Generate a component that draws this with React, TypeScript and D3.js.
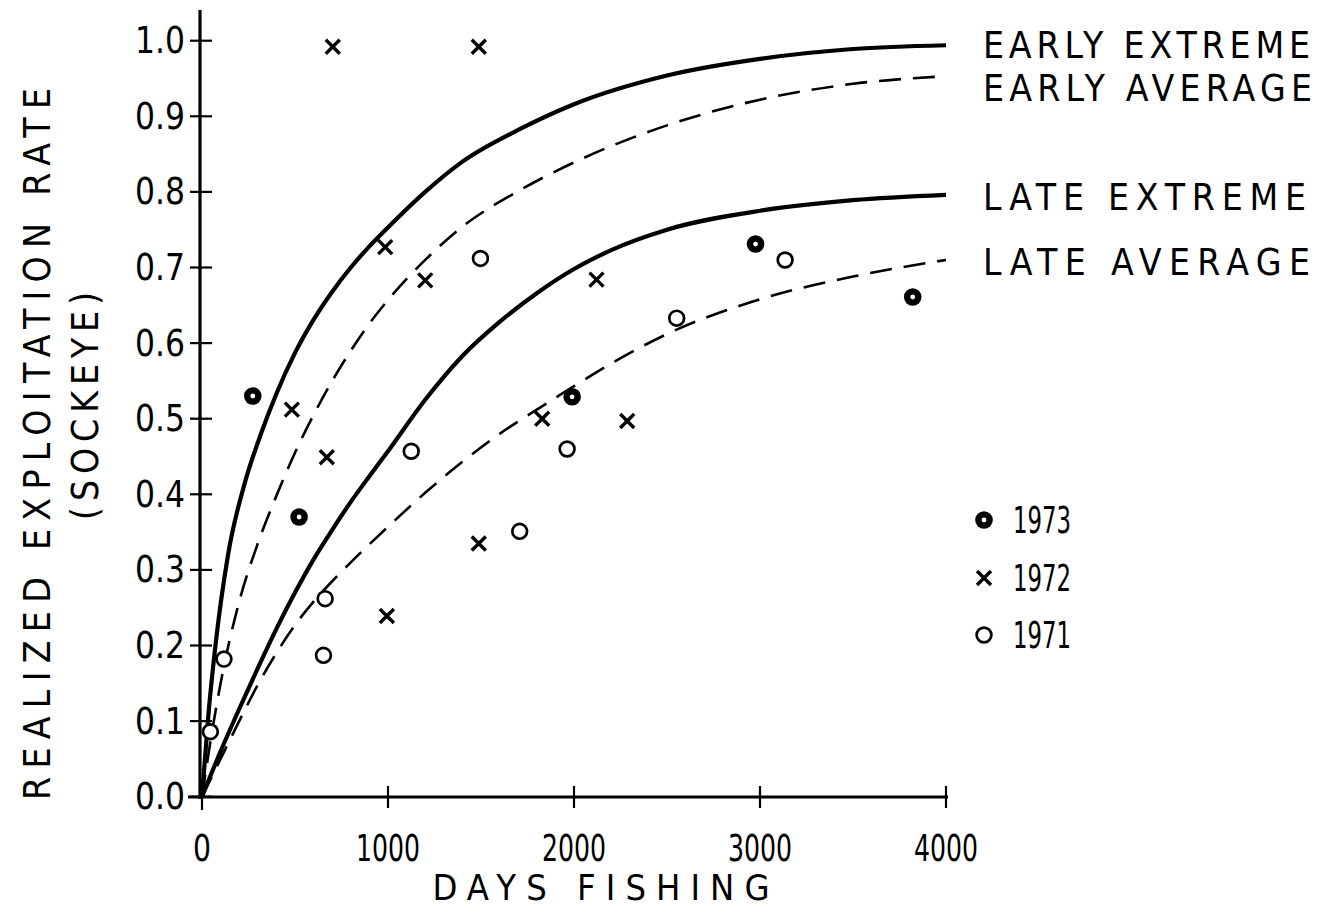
import React from "react";
import * as d3 from "d3";

// ---- data ----
const xTicks = [0, 1000, 2000, 3000, 4000];
const yTicks = [0, 0.1, 0.2, 0.3, 0.4, 0.5, 0.6, 0.7, 0.8, 0.9, 1.0];

const earlyExtremeDays = [0, 35, 70, 140, 230, 320, 400, 500, 600, 700, 800, 900, 1000, 1200, 1400, 1700, 2000, 2500, 3000, 3500, 4000];
const earlyExtremeRate = [0, 0.11, 0.195, 0.32, 0.415, 0.482, 0.533, 0.587, 0.631, 0.668, 0.7, 0.728, 0.753, 0.8, 0.84, 0.882, 0.916, 0.954, 0.976, 0.989, 0.994];

const earlyAverageDays = [0, 50, 100, 200, 300, 400, 500, 600, 700, 800, 900, 1000, 1200, 1400, 1700, 2000, 2500, 3000, 3500, 4000];
const earlyAverageRate = [0, 0.08, 0.15, 0.258, 0.335, 0.398, 0.455, 0.505, 0.55, 0.59, 0.626, 0.657, 0.71, 0.754, 0.801, 0.839, 0.888, 0.922, 0.943, 0.953];

const lateExtremeDays = [0, 100, 200, 300, 400, 500, 600, 700, 800, 900, 1000, 1200, 1400, 1600, 1800, 2000, 2200, 2500, 3000, 3500, 4000];
const lateExtremeRate = [0, 0.06, 0.116, 0.17, 0.222, 0.27, 0.314, 0.353, 0.39, 0.424, 0.457, 0.525, 0.583, 0.628, 0.666, 0.698, 0.723, 0.75, 0.775, 0.789, 0.796];

const lateAverageDays = [0, 100, 200, 300, 400, 500, 600, 700, 800, 1000, 1200, 1400, 1600, 1800, 2000, 2200, 2500, 3000, 3500, 4000];
const lateAverageRate = [0, 0.05, 0.1, 0.148, 0.19, 0.227, 0.258, 0.285, 0.31, 0.357, 0.402, 0.443, 0.48, 0.512, 0.543, 0.573, 0.612, 0.658, 0.688, 0.71];

const days1971 = [45, 118, 653, 662, 1125, 1497, 1708, 1963, 2552, 3135];
const rate1971 = [0.086, 0.182, 0.187, 0.262, 0.457, 0.712, 0.351, 0.46, 0.633, 0.71];
const days1972 = [483, 671, 703, 985, 994, 1200, 1488, 1488, 1829, 2121, 2286];
const rate1972 = [0.512, 0.449, 0.992, 0.727, 0.239, 0.683, 0.992, 0.335, 0.5, 0.684, 0.497];
const days1973 = [273, 522, 1990, 2976, 3821];
const rate1973 = [0.53, 0.37, 0.529, 0.731, 0.661];

const curveLabels = ["EARLY EXTREME", "EARLY AVERAGE", "LATE EXTREME", "LATE AVERAGE"];
const legendYears = ["1973", "1972", "1971"];

const FONT = "'DejaVu Sans Condensed', 'DejaVu Sans', sans-serif";

export default function App() {
  const W = 1323, H = 918;
  const x = d3.scaleLinear().domain([0, 4000]).range([202, 946]);
  const y = d3.scaleLinear().domain([0, 1]).range([796.7, 40.7]);

  const line = d3
    .line<[number, number]>()
    .x((d) => x(d[0]))
    .y((d) => y(d[1]))
    .curve(d3.curveMonotoneX);

  const zip = (a: number[], b: number[]) => a.map((v, i) => [v, b[i]] as [number, number]);

  const curves = [
    { pts: zip(earlyExtremeDays, earlyExtremeRate), dash: null, w: 4.2 },
    { pts: zip(earlyAverageDays, earlyAverageRate), dash: "22 12", w: 2.6 },
    { pts: zip(lateExtremeDays, lateExtremeRate), dash: null, w: 4.2 },
    { pts: zip(lateAverageDays, lateAverageRate), dash: "22 12", w: 2.6 },
  ];

  const labelY = [45, 88, 197, 262];
  const labelLen = [327, 329, 323, 327];

  const cross = (cx: number, cy: number, k: string, s = 7, sw = 3.4) => (
    <g key={k} stroke="#000" strokeWidth={sw} strokeLinecap="butt">
      <line x1={cx - s} y1={cy - s} x2={cx + s} y2={cy + s} />
      <line x1={cx - s} y1={cy + s} x2={cx + s} y2={cy - s} />
    </g>
  );
  const openC = (cx: number, cy: number, k: string) => (
    <circle key={k} cx={cx} cy={cy} r={7.4} fill="#fff" stroke="#000" strokeWidth={2.7} />
  );
  const filledC = (cx: number, cy: number, k: string) => (
    <g key={k}>
      <circle cx={cx} cy={cy} r={8.8} fill="#000" />
      <circle cx={cx} cy={cy} r={2.4} fill="#fff" />
    </g>
  );

  const legendMarkers = [filledC, cross, openC];
  const legendYs = [520, 578, 635];

  return (
    <svg
      width={W}
      height={H}
      style={{ position: "absolute", left: 0, top: 0, background: "#fff" }}
      fontFamily={FONT}
    >
      <rect x={0} y={0} width={W} height={H} fill="#fff" />
      {/* axes */}
      <line x1={200} y1={10} x2={200} y2={799} stroke="#000" strokeWidth={3.2} />
      <line x1={188} y1={797} x2={948} y2={797} stroke="#000" strokeWidth={3.2} />
      {yTicks.map((t) => (
        <g key={"yt" + t}>
          <line x1={190} x2={212} y1={y(t)} y2={y(t)} stroke="#000" strokeWidth={2.2} />
          <text
            x={185}
            y={y(t)}
            textAnchor="end"
            dominantBaseline="central"
            fontSize={37}
            textLength={50}
            lengthAdjust="spacingAndGlyphs"
          >
            {t.toFixed(1)}
          </text>
        </g>
      ))}
      {xTicks.map((t) => (
        <g key={"xt" + t}>
          <line x1={x(t)} x2={x(t)} y1={786} y2={t === 0 ? 810 : 808} stroke="#000" strokeWidth={2.2} />
          <text
            x={x(t)}
            y={848}
            textAnchor="middle"
            dominantBaseline="central"
            fontSize={37}
            textLength={t === 0 ? 18 : 64}
            lengthAdjust="spacingAndGlyphs"
          >
            {String(t)}
          </text>
        </g>
      ))}

      {/* curves */}
      {curves.map((c, i) => (
        <path
          key={"c" + i}
          d={line(c.pts) || ""}
          fill="none"
          stroke="#000"
          strokeWidth={c.w}
          strokeDasharray={c.dash || undefined}
        />
      ))}

      {/* points */}
      {days1971.map((d, i) => openC(x(d), y(rate1971[i]), "o" + i))}
      {days1972.map((d, i) => cross(x(d), y(rate1972[i]), "x" + i))}
      {days1973.map((d, i) => filledC(x(d), y(rate1973[i]), "f" + i))}

      {/* curve labels */}
      {curveLabels.map((l, i) => (
        <text
          key={"cl" + i}
          x={983}
          y={labelY[i]}
          dominantBaseline="central"
          fontSize={37}
          textLength={labelLen[i]}
          lengthAdjust="spacing"
        >
          {l}
        </text>
      ))}

      {/* legend */}
      {legendYears.map((yr, i) => (
        <g key={"lg" + i}>
          {legendMarkers[i](984, legendYs[i], "lm" + i)}
          <text
            x={1013}
            y={legendYs[i]}
            dominantBaseline="central"
            fontSize={38}
            textLength={58}
            lengthAdjust="spacingAndGlyphs"
          >
            {yr}
          </text>
        </g>
      ))}

      {/* axis titles */}
      <text
        x={601}
        y={887}
        textAnchor="middle"
        dominantBaseline="central"
        fontSize={36}
        textLength={337}
        lengthAdjust="spacing"
      >
        DAYS  FISHING
      </text>
      <text
        transform="translate(37,444) rotate(-90)"
        textAnchor="middle"
        dominantBaseline="central"
        fontSize={37}
        textLength={712}
        lengthAdjust="spacing"
      >
        REALIZED EXPLOITATION RATE
      </text>
      <text
        transform="translate(85,406) rotate(-90)"
        textAnchor="middle"
        dominantBaseline="central"
        fontSize={37}
        textLength={228}
        lengthAdjust="spacing"
      >
        (SOCKEYE)
      </text>
    </svg>
  );
}
